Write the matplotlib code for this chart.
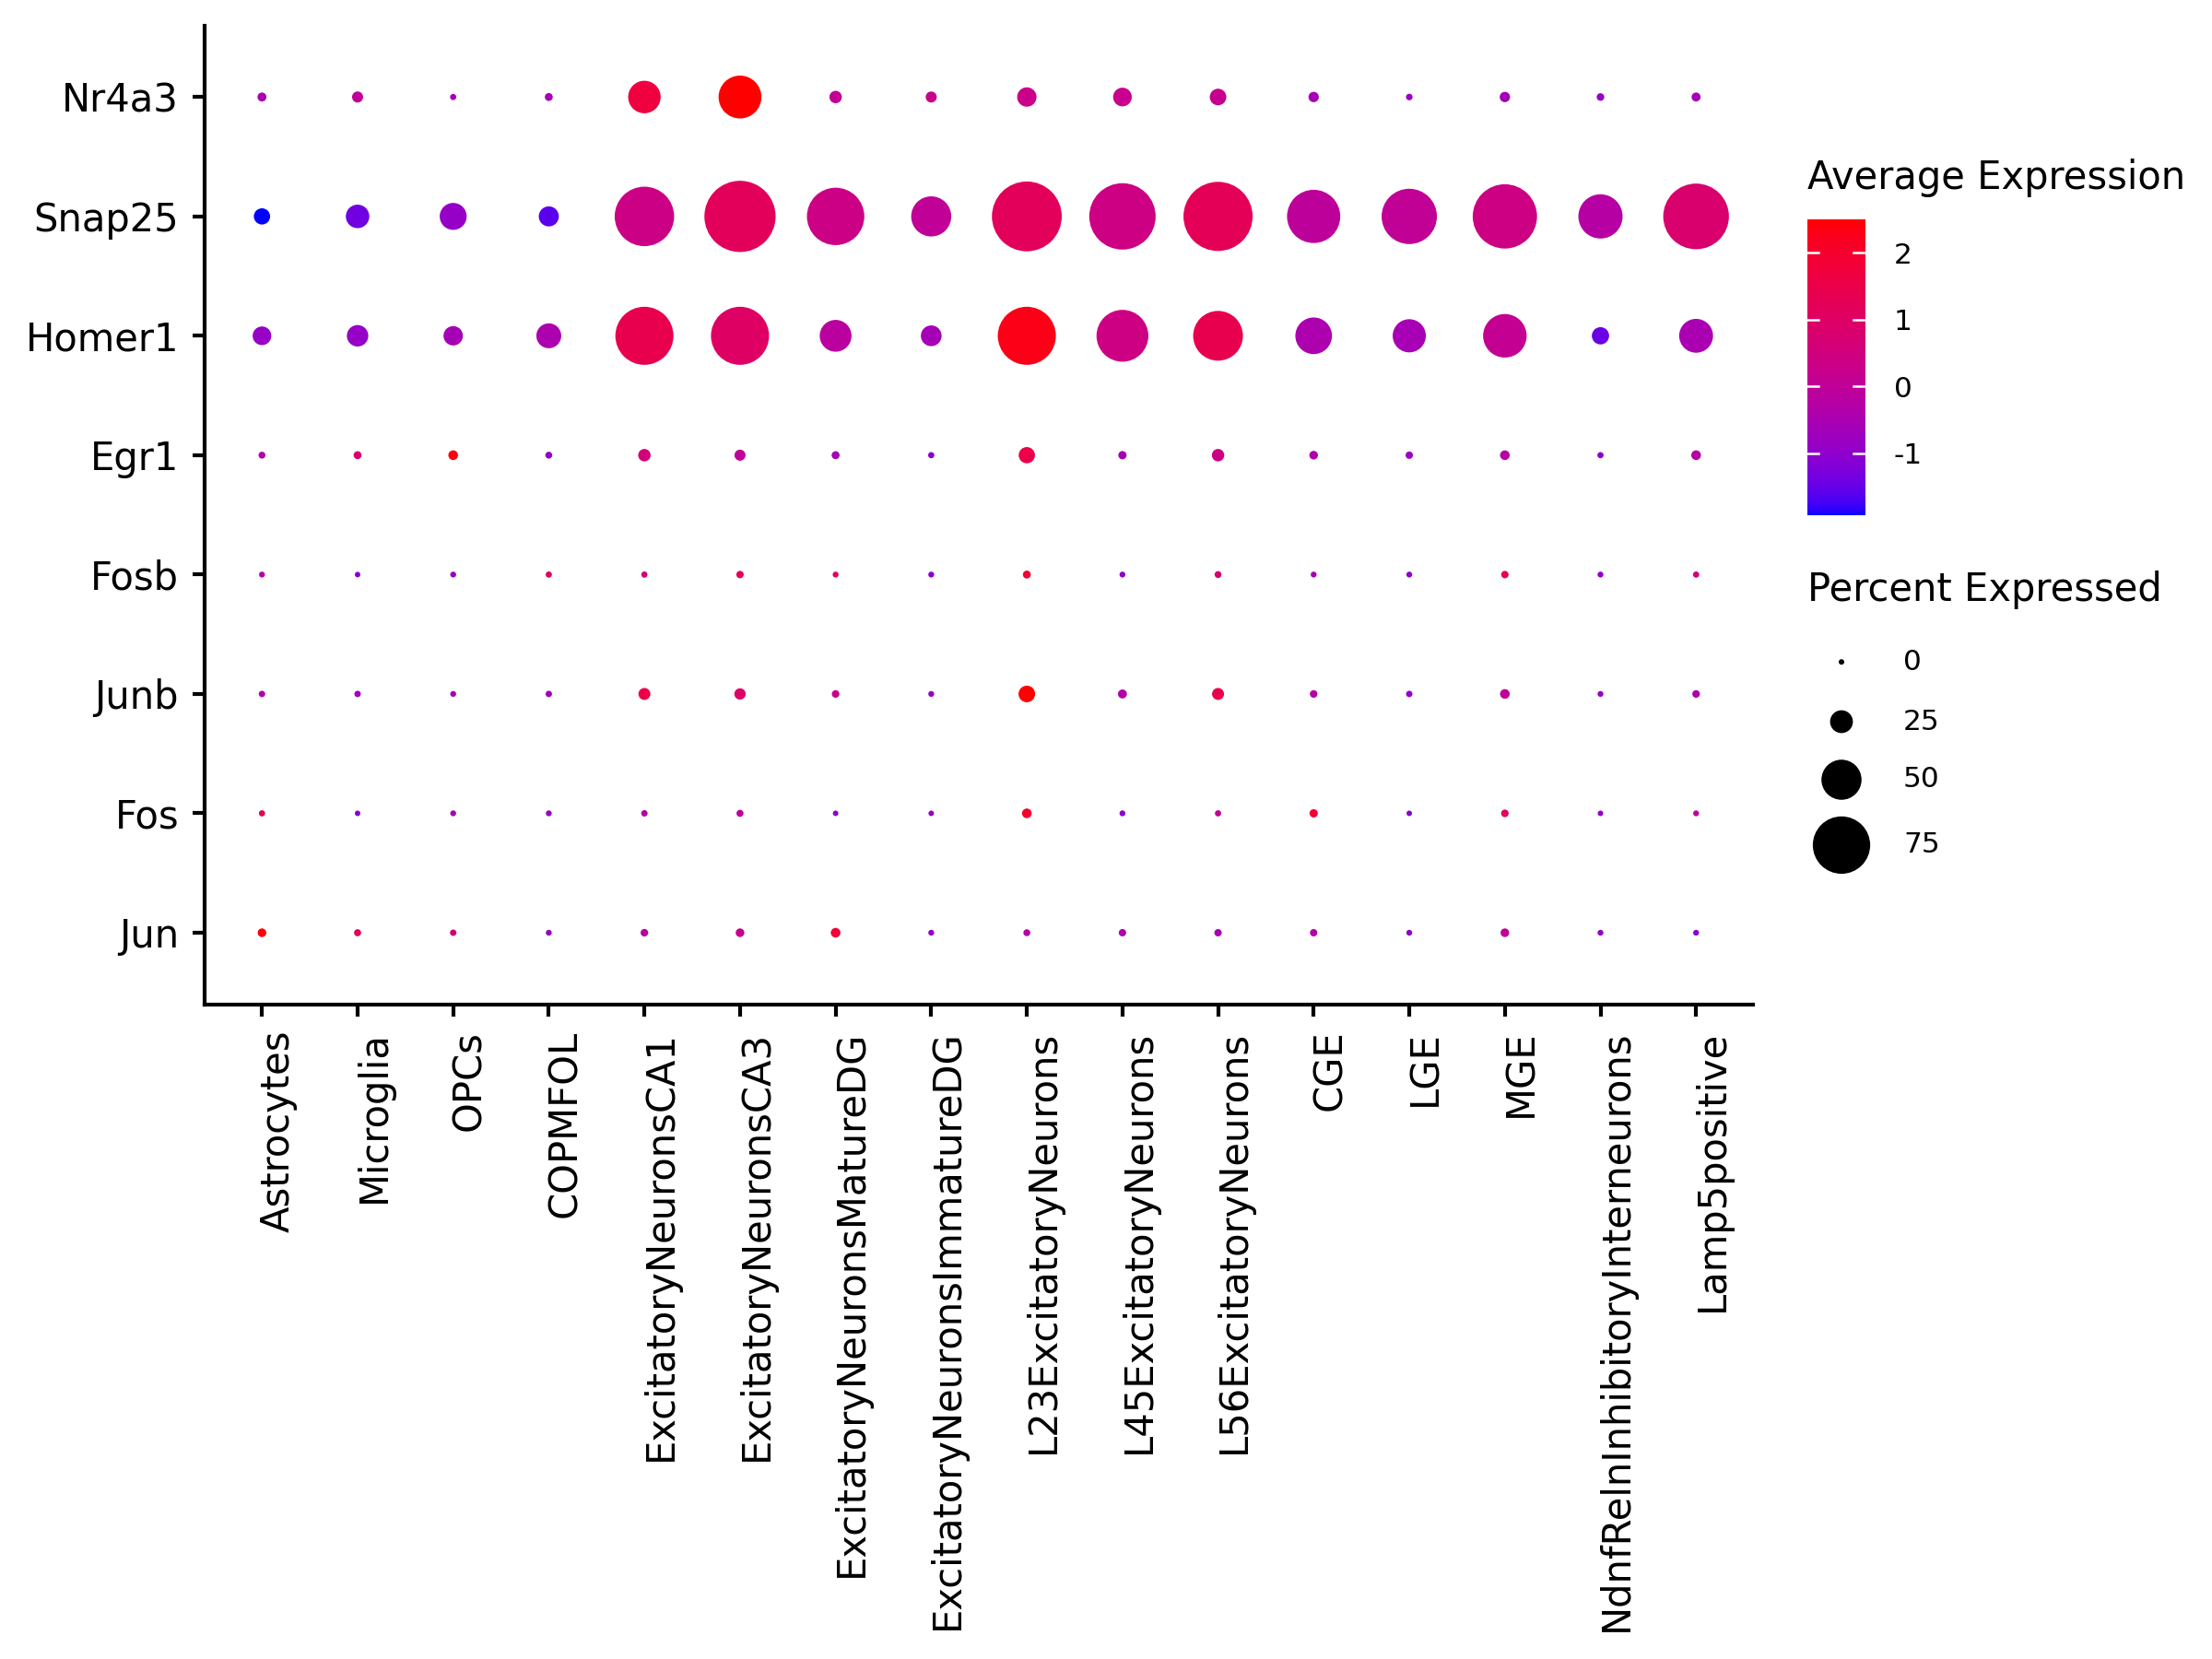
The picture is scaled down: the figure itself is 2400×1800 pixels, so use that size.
import numpy as np
import matplotlib
matplotlib.use("Agg")
import matplotlib.pyplot as plt
import matplotlib.transforms as mtransforms
from matplotlib.colors import ListedColormap, Normalize
from matplotlib.cm import ScalarMappable

plt.rcParams["font.family"] = "DejaVu Sans"
plt.rcParams["axes.unicode_minus"] = False

clusters = ["Astrocytes", "Microglia", "OPCs", "COPMFOL", "ExcitatoryNeuronsCA1",
            "ExcitatoryNeuronsCA3", "ExcitatoryNeuronsMatureDG", "ExcitatoryNeuronsImmatureDG",
            "L23ExcitatoryNeurons", "L45ExcitatoryNeurons", "L56ExcitatoryNeurons",
            "CGE", "LGE", "MGE", "NdnfRelnInhibitoryInterneurons", "Lamp5positive"]
genes = ["Nr4a3", "Snap25", "Homer1", "Egr1", "Fosb", "Junb", "Fos", "Jun"]

# percent of cells expressing (rows follow `genes`, top to bottom)
pct_expr = [
    [5, 8, 1, 3.5, 39, 54, 10, 8, 20, 19, 16, 7, 1.5, 7, 3, 5],
    [15.5, 26, 31, 21, 78, 95, 75, 50, 93, 88, 92, 69, 72, 85, 56, 87],
    [19, 23, 20, 28, 76, 76, 38, 22, 76, 67, 64, 45, 40, 55, 17, 41],
    [2, 3.5, 6, 2, 10, 8, 3.5, 1, 15.5, 4, 10, 4.5, 2.7, 6, 1, 6],
    [0.5, 0, 0.5, 1, 1, 2.7, 0.5, 0.5, 3.5, 0.5, 2, 0.5, 0.5, 2.7, 0.5, 1],
    [1.3, 1.3, 0.5, 1.3, 9.3, 8.4, 3, 0.5, 16, 5, 9.3, 3, 1.3, 6, 0.5, 3],
    [1, 0, 0.5, 0.5, 1.3, 2.2, 0, 0, 6, 0.5, 1, 4, 0, 3, 0, 0.5],
    [4.5, 2.2, 1.3, 0.5, 3, 4.5, 6, 0.5, 2, 2.7, 2.7, 2.7, 0.5, 4.5, 0.5, 0.5],
]
# scaled average expression
avg_expr = [
    [-0.5, 0.0, -0.6, -0.6, 1.7, 2.50, 0.1, 0.25, 0.3, 0.25, 0.15, -0.6, -0.9, -0.6, -0.9, -0.6],
    [-1.93, -1.4, -0.9, -1.6, 0.35, 1.2, 0.35, 0.0, 1.2, 0.4, 1.25, -0.05, 0.05, 0.4, -0.25, 0.8],
    [-0.9, -0.9, -0.6, -0.45, 1.4, 1.0, -0.15, -0.6, 2.3, 0.4, 1.4, -0.45, -0.55, 0.1, -1.45, -0.5],
    [-0.3, 0.8, 2.4, -0.9, 0.6, 0.0, -0.6, -1.1, 1.5, -0.6, 0.4, -0.4, -0.8, -0.25, -1.0, -0.25],
    [-0.3, -1.1, -0.9, 1.1, 0.6, 1.2, 1.1, -1.1, 1.8, -1.0, 0.6, -0.6, -1.0, 1.5, -1.0, 0.6],
    [-0.3, -0.7, -0.6, -0.7, 1.5, 0.9, 0.2, -0.9, 2.5, -0.3, 1.5, -0.3, -0.9, 0.0, -0.9, -0.45],
    [1.4, -1.1, -0.6, -0.85, -0.3, -0.15, -1.0, -0.9, 2.0, -1.0, 0.1, 1.8, -1.1, 1.1, -1.0, 0.0],
    [2.4, 1.1, 0.6, -0.9, -0.25, 0.2, 1.8, -0.9, -0.3, -0.45, -0.6, -0.3, -1.0, 0.0, -0.9, -1.1],
]
cbar_ticks = [-1, 0, 1, 2]
size_breaks = [0, 25, 50, 75]


# blue -> red gradient interpolated in CIE Lab (like ggplot's scale_color_gradient)
def srgb_to_lab(rgb):
    rgb = np.asarray(rgb, float)
    lin = np.where(rgb <= 0.04045, rgb / 12.92, ((rgb + 0.055) / 1.055) ** 2.4)
    M = np.array([[0.4124, 0.3576, 0.1805], [0.2126, 0.7152, 0.0722], [0.0193, 0.1192, 0.9505]])
    xyz = M @ lin / np.array([0.95047, 1.0, 1.08883])
    f = np.where(xyz > 0.008856, np.cbrt(xyz), 7.787 * xyz + 16 / 116)
    return np.array([116 * f[1] - 16, 500 * (f[0] - f[1]), 200 * (f[1] - f[2])])


def lab_to_srgb(lab):
    L, a, b = lab
    fy = (L + 16) / 116
    f = np.array([fy + a / 500, fy, fy - b / 200])
    xyz = np.where(f ** 3 > 0.008856, f ** 3, (f - 16 / 116) / 7.787) * np.array([0.95047, 1.0, 1.08883])
    Minv = np.array([[3.2406, -1.5372, -0.4986], [-0.9689, 1.8758, 0.0415], [0.0557, -0.2040, 1.0570]])
    lin = np.clip(Minv @ xyz, 0, 1)
    return np.clip(np.where(lin <= 0.0031308, 12.92 * lin, 1.055 * lin ** (1 / 2.4) - 0.055), 0, 1)


lab_lo, lab_hi = srgb_to_lab([0, 0, 1]), srgb_to_lab([1, 0, 0])
cmap = ListedColormap([lab_to_srgb(lab_lo + t * (lab_hi - lab_lo)) for t in np.linspace(0, 1, 256)])


def dot_size(p):
    d_px = 6 + 0.75 * np.asarray(p, float)   # diameter in px at 300 dpi
    return (d_px * 72 / 300) ** 2


pct = np.array(pct_expr)
avg = np.array(avg_expr)
norm = Normalize(vmin=avg.min(), vmax=avg.max())
ng, nc = pct.shape
xx, yy = np.meshgrid(np.arange(1, nc + 1), ng - np.arange(ng))

fig = plt.figure(figsize=(8, 6), dpi=300)
ax = fig.add_axes([0.0925, 0.3946, 0.7002, 0.5901])
ax.scatter(xx.ravel(), yy.ravel(), s=dot_size(pct.ravel()), c=avg.ravel(),
           cmap=cmap, norm=norm, linewidths=0)
ax.set_xlim(0.4, nc + 0.6)
ax.set_ylim(0.4, ng + 0.6)
ax.set_xticks(np.arange(1, nc + 1))
ax.set_xticklabels(clusters, rotation=90, ha="left", va="top")
ax.set_yticks(ng - np.arange(ng))
ax.set_yticklabels(genes)
for s in ("top", "right"):
    ax.spines[s].set_visible(False)
for s in ("left", "bottom"):
    ax.spines[s].set_linewidth(1.0)
ax.tick_params(length=3.2, width=1.0, labelsize=10, pad=3.5, colors="black")
# nudge rotated labels so the cap line sits on the tick
shift = mtransforms.ScaledTranslation(-0.8 / 72, 0, fig.dpi_scale_trans)
for lab in ax.get_xticklabels():
    lab.set_transform(lab.get_transform() + shift)

# colour bar
cax = fig.add_axes([0.817, 0.6894, 0.02625, 0.1784])
cb = fig.colorbar(ScalarMappable(norm=norm, cmap=cmap), cax=cax)
cb.outline.set_visible(False)
cb.set_ticks(cbar_ticks)
cb.set_ticklabels([str(t) for t in cbar_ticks])
cax.tick_params(length=0, labelsize=7.5, pad=7.4)
tr = cax.get_yaxis_transform()
for t in cbar_ticks:
    cax.plot([0, 0.2], [t, t], color="white", lw=0.6, transform=tr)
    cax.plot([0.8, 1.0], [t, t], color="white", lw=0.6, transform=tr)
fig.text(0.817, 0.886, "Average Expression", fontsize=10, va="baseline", ha="left")

# size legend
fig.text(0.817, 0.6378, "Percent Expressed", fontsize=10, va="baseline", ha="left")
lax = fig.add_axes([0, 0, 1, 1], facecolor="none")
lax.set_xlim(0, 1); lax.set_ylim(0, 1); lax.axis("off")
leg_y = [0.601, 0.565, 0.530, 0.4906]
lax.scatter([0.8325] * len(size_breaks), leg_y, s=dot_size(size_breaks), color="black", linewidths=0)
for yv, b in zip(leg_y, size_breaks):
    lax.text(0.8604, yv, str(b), fontsize=7.5, va="center", ha="left")

fig.savefig("out.png", dpi=300)
